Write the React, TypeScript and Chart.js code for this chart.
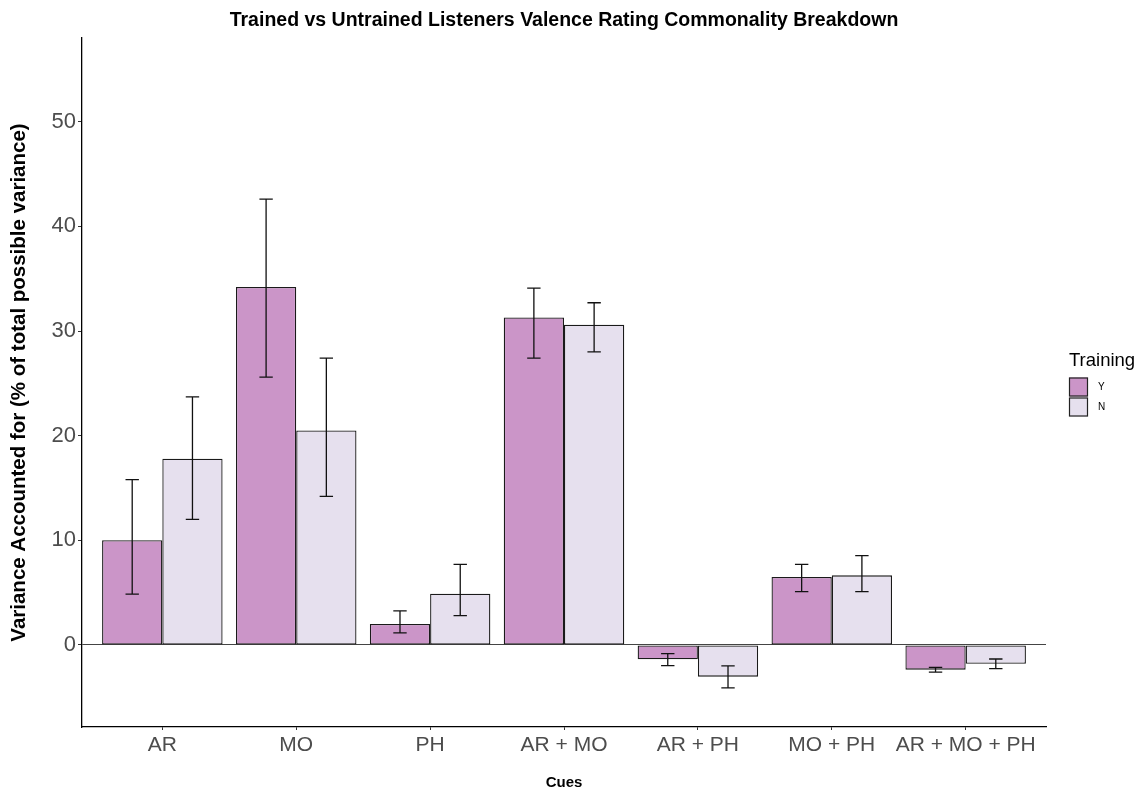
import React, { useEffect, useRef } from "react";
import { Chart, registerables } from "chart.js";

Chart.register(...registerables);

const categories = ["AR", "MO", "PH", "AR + MO", "AR + PH", "MO + PH", "AR + MO + PH"];
const trainedValues = [10.0, 34.2, 2.0, 31.3, -1.37, 6.5, -2.36];
const untrainedValues = [17.8, 20.5, 4.9, 30.6, -3.03, 6.65, -1.8];
const trainedLow = [4.85, 25.6, 1.15, 27.4, -1.98, 5.1, -2.6];
const trainedHigh = [15.8, 42.6, 3.25, 34.1, -0.83, 7.7, -2.14];
const untrainedLow = [12.0, 14.2, 2.8, 28.0, -4.1, 5.1, -2.26];
const untrainedHigh = [23.7, 27.4, 7.7, 32.7, -2.0, 8.54, -1.34];
const yTickValues = [0, 10, 20, 30, 40, 50];
const legendLabels = ["Y", "N"];

const FONT = "'Liberation Sans', Arial, Helvetica, sans-serif";
const colorY = "#CB95C8";
const colorN = "#E6E0EE";

const errorBarPlugin = {
  id: "errorBars",
  afterDatasetsDraw(chart: any) {
    const ctx = chart.ctx;
    const xs = chart.scales.x;
    const ys = chart.scales.y;
    const lows = [trainedLow, untrainedLow];
    const highs = [trainedHigh, untrainedHigh];
    const half = Math.abs(xs.getPixelForValue(0.05) - xs.getPixelForValue(0));
    ctx.save();
    ctx.strokeStyle = "#111";
    ctx.lineWidth = 1.3;
    chart.data.datasets.forEach((_: any, di: number) => {
      const meta = chart.getDatasetMeta(di);
      meta.data.forEach((bar: any, i: number) => {
        const x = bar.x;
        const yl = ys.getPixelForValue(lows[di][i]);
        const yh = ys.getPixelForValue(highs[di][i]);
        ctx.beginPath();
        ctx.moveTo(x, yl);
        ctx.lineTo(x, yh);
        ctx.moveTo(x - half, yl);
        ctx.lineTo(x + half, yl);
        ctx.moveTo(x - half, yh);
        ctx.lineTo(x + half, yh);
        ctx.stroke();
      });
    });
    ctx.restore();
  },
};

const legendPlugin = {
  id: "customLegend",
  afterDraw(chart: any) {
    const ctx = chart.ctx;
    const area = chart.chartArea;
    const x0 = area.right + 23;
    const midY = (area.top + area.bottom) / 2;
    ctx.save();
    ctx.fillStyle = "#000";
    ctx.font = `18.5px ${FONT}`;
    ctx.textAlign = "left";
    ctx.textBaseline = "alphabetic";
    ctx.fillText("Training", x0, midY - 17);
    const colors = [colorY, colorN];
    legendLabels.forEach((lab, i) => {
      const by = midY - 5 + i * 20;
      ctx.fillStyle = colors[i];
      ctx.fillRect(x0, by, 19, 19);
      ctx.strokeStyle = "#222";
      ctx.lineWidth = 1.2;
      ctx.strokeRect(x0 + 0.5, by + 0.5, 18, 18);
      ctx.fillStyle = "#000";
      ctx.font = `10px ${FONT}`;
      ctx.textBaseline = "middle";
      ctx.fillText(lab, x0 + 29, by + 10);
    });
    ctx.restore();
  },
};

export default function App() {
  const ref = useRef<HTMLCanvasElement>(null);
  useEffect(() => {
    if (!ref.current) return;
    const chart = new Chart(ref.current, {
      type: "bar",
      data: {
        datasets: [
          {
            label: legendLabels[0],
            data: trainedValues.map((v, i) => ({ x: i + 1, y: v })),
            backgroundColor: colorY,
            borderColor: "#1a1a1a",
            borderWidth: 1.3,
            borderSkipped: false,
            categoryPercentage: 0.9,
            barPercentage: 1,
          },
          {
            label: legendLabels[1],
            data: untrainedValues.map((v, i) => ({ x: i + 1, y: v })),
            backgroundColor: colorN,
            borderColor: "#1a1a1a",
            borderWidth: 1.3,
            borderSkipped: false,
            categoryPercentage: 0.9,
            barPercentage: 1,
          },
        ],
      },
      options: {
        animation: false,
        responsive: true,
        maintainAspectRatio: false,
        layout: { padding: { left: 0, right: 91, top: 0, bottom: 0 } },
        plugins: {
          legend: { display: false },
          tooltip: { enabled: false },
          title: {
            display: true,
            text: "Trained vs Untrained Listeners Valence Rating Commonality Breakdown",
            fullSize: false,
            color: "#000",
            font: { family: FONT, size: 19.5, weight: "bold" },
            padding: { top: 9, bottom: 5.6 },
          },
        },
        scales: {
          x: {
            type: "linear",
            offset: false,
            min: 0.4,
            max: 7.6,
            afterBuildTicks: (s: any) => {
              s.ticks = categories.map((_, i) => ({ value: i + 1 }));
            },
            afterFit: (s: any) => {
              s.height = 63;
            },
            grid: { display: true, offset: false, drawOnChartArea: false, drawTicks: true, tickLength: 3, tickColor: "#333" },
            border: { display: true, color: "#000", width: 1.3 },
            ticks: {
              autoSkip: false,
              maxRotation: 0,
              padding: 3,
              color: "#4D4D4D",
              font: { family: FONT, size: 21 },
              callback: (v: any) => categories[Math.round(v) - 1] ?? "",
            },
            title: {
              display: true,
              text: "Cues",
              color: "#000",
              font: { family: FONT, size: 15, weight: "bold", lineHeight: 1 },
              padding: { top: 0, bottom: 0 },
            },
          },
          y: {
            min: -7.84,
            max: 58,
            afterBuildTicks: (s: any) => {
              s.ticks = yTickValues.map((v) => ({ value: v }));
            },
            afterFit: (s: any) => {
              s.width = 82;
            },
            grid: {
              display: true,
              drawOnChartArea: true,
              drawTicks: true,
              tickLength: 4,
              color: (c: any) => (c.tick && c.tick.value === 0 ? "#444" : "rgba(0,0,0,0)"),
              tickColor: "#333",
              lineWidth: 1,
            },
            border: { display: true, color: "#000", width: 1.3 },
            ticks: {
              padding: 2,
              color: "#4D4D4D",
              font: { family: FONT, size: 22 },
            },
            title: {
              display: true,
              text: "Variance Accounted for (% of total possible variance)",
              color: "#000",
              font: { family: FONT, size: 20.5, weight: "bold" },
              padding: { top: 7, bottom: 0 },
            },
          },
        },
      },
      plugins: [errorBarPlugin, legendPlugin],
    });
    return () => chart.destroy();
  }, []);
  return (
    <div style={{ position: "absolute", left: 0, top: 0, width: 1137, height: 790 }}>
      <canvas ref={ref} />
    </div>
  );
}
